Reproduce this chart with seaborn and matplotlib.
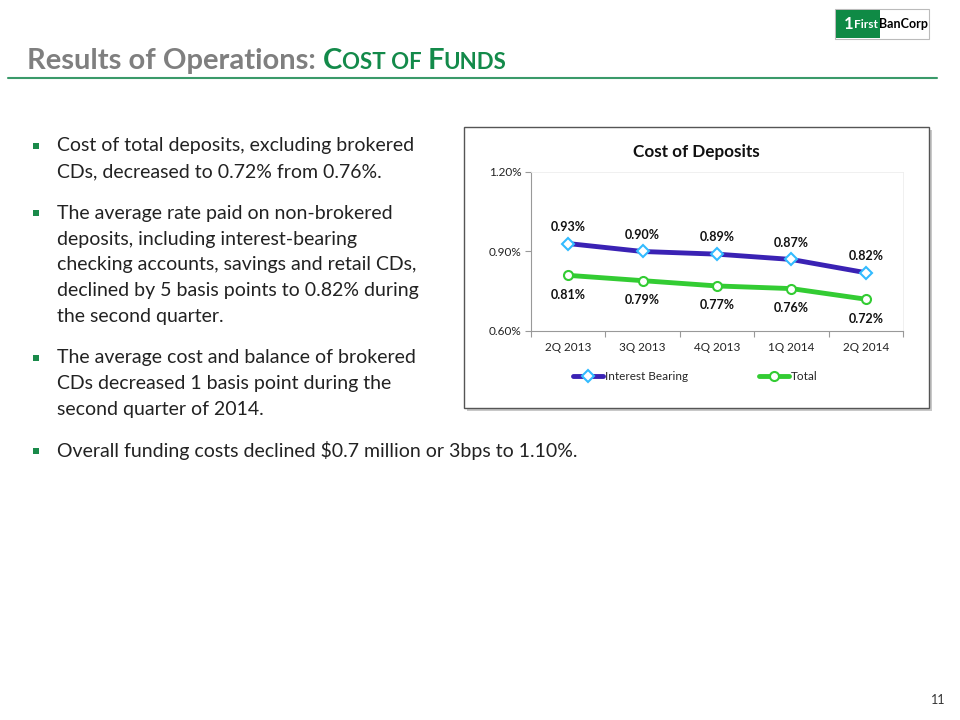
import numpy as np
import pandas as pd
import matplotlib
matplotlib.use("Agg")
import matplotlib.pyplot as plt
from matplotlib.patches import Rectangle
from matplotlib.lines import Line2D
import seaborn as sns

# ===================== DATOS =====================
quarters = ["2Q 2013", "3Q 2013", "4Q 2013", "1Q 2014", "2Q 2014"]
interest_bearing = [0.93, 0.90, 0.89, 0.87, 0.82]
total = [0.81, 0.79, 0.77, 0.76, 0.72]
y_ticks = [0.60, 0.90, 1.20]
series_names = ["Interest Bearing", "Total"]

bullets = [
    ["Cost of total deposits, excluding brokered", "CDs, decreased to 0.72% from 0.76%."],
    ["The average rate paid on non-brokered", "deposits, including interest-bearing",
     "checking accounts, savings and retail CDs,", "declined by 5 basis points to 0.82% during",
     "the second quarter."],
    ["The average cost and balance of brokered", "CDs decreased 1 basis point during the",
     "second quarter of 2014."],
    ["Overall funding costs declined $0.7 million or 3bps to 1.10%."],
]

# ===================== ESTILO =====================
sns.set_theme(style="white")
plt.rcParams['font.family'] = ['Lato', 'DejaVu Sans']

W, H = 960, 720
fig = plt.figure(figsize=(9.6, 7.2), dpi=100)

def fx(px):
    return px / W

def fy(py):
    return 1 - py / H

GREEN = "#138a4a"
GRAY = "#7f7f7f"
BLUE = "#3a22b4"
LGREEN = "#33cc33"

# titulo de la diapositiva
TY = 69
t1 = fig.text(fx(27), fy(TY), "Results of Operations: ", fontsize=21, fontweight="bold",
              color=GRAY, va="baseline", ha="left")
fig.canvas.draw()
x0 = t1.get_window_extent().x1 / W
for part, sz in [("C", 21), ("OST OF ", 16), ("F", 21), ("UNDS", 16)]:
    t = fig.text(x0, fy(TY), part, fontsize=sz, fontweight="bold", color=GREEN, va="baseline")
    fig.canvas.draw()
    x0 = t.get_window_extent().x1 / W

fig.add_artist(Line2D([fx(8), fx(937)], [fy(78), fy(78)], color="#3a9a6a", lw=1.5))

# logo
fig.add_artist(Rectangle((fx(835), fy(39)), fx(94), 30 / H, facecolor="white",
                         edgecolor="#bbbbbb", lw=0.8))
fig.add_artist(Rectangle((fx(836), fy(38)), fx(44), 28 / H, facecolor="#0f8a45", edgecolor="none"))
fig.text(fx(849), fy(24), "1", fontsize=12, fontweight="bold", color="white",
         ha="center", va="center")
fig.text(fx(866), fy(25), "First", fontsize=8.5, fontweight="bold", color="white",
         ha="center", va="center")
fig.text(fx(904), fy(24), "BanCorp", fontsize=9, fontweight="bold", color="black",
         ha="center", va="center")

# viñetas
y = 146
for b in bullets:
    fig.add_artist(Rectangle((fx(33), fy(y + 3)), fx(6), 6 / H, facecolor="#1a8a4a", edgecolor="none"))
    for line in b:
        fig.text(fx(57), fy(y), line, fontsize=14, color="#222222", va="center", ha="left")
        y += 25.7
    y += 16

# número de página
fig.text(fx(945), fy(700), "11", fontsize=9, color="#333333", ha="right", va="center")

# marco del gráfico con sombra
fig.add_artist(Rectangle((fx(467), fy(411)), fx(465), 281 / H, facecolor="#c8c8c8",
                         edgecolor="none", zorder=0))
fig.add_artist(Rectangle((fx(464), fy(408)), fx(465), 281 / H, facecolor="white",
                         edgecolor="#555555", lw=1, zorder=0.5))

# ===================== GRÁFICO =====================
ax = fig.add_axes([fx(531), fy(331), fx(903 - 531), (331 - 172) / H])
ax.set_zorder(2)
ax.patch.set_alpha(0)

sns.lineplot(x=quarters, y=interest_bearing, ax=ax, color=BLUE, lw=3.5, marker="D",
             markersize=6, markerfacecolor="white", markeredgecolor="#33bbff",
             markeredgewidth=1.5, sort=False, label=series_names[0], legend=False)
sns.lineplot(x=quarters, y=total, ax=ax, color=LGREEN, lw=3.5, marker="o",
             markersize=6.5, markerfacecolor="white", markeredgecolor=LGREEN,
             markeredgewidth=1.5, sort=False, label=series_names[1], legend=False)

for i, v in enumerate(interest_bearing):
    ax.annotate(f"{v:.2f}%", (i, v), xytext=(0, 12), textcoords="offset points",
                ha="center", va="center", fontsize=9, fontweight="bold", color="#111111")
for i, v in enumerate(total):
    ax.annotate(f"{v:.2f}%", (i, v), xytext=(0, -14), textcoords="offset points",
                ha="center", va="center", fontsize=9, fontweight="bold", color="#111111")

ax.set_xlim(-0.5, len(quarters) - 0.5)
ax.set_ylim(y_ticks[0], y_ticks[-1])
ax.set_yticks(y_ticks)
ax.set_yticklabels([f"{t:.2f}%" for t in y_ticks])
ax.set_xticks(range(len(quarters)))
ax.set_xticklabels(quarters)
ax.set_xticks(np.arange(-0.5, len(quarters)), minor=True)
ax.tick_params(axis="x", which="major", length=0, pad=8, labelsize=8.5, labelcolor="#222222")
ax.tick_params(axis="x", which="minor", length=4, color="#999999", width=0.8, bottom=True)
ax.tick_params(axis="y", which="major", length=4, color="#999999", width=0.8, left=True,
               labelsize=8.5, labelcolor="#222222", pad=3)
for side in ["top", "right"]:
    ax.spines[side].set_color("#eeeeee")
    ax.spines[side].set_linewidth(0.6)
for side in ["left", "bottom"]:
    ax.spines[side].set_color("#999999")
    ax.spines[side].set_linewidth(0.8)
ax.set_xlabel("")
ax.set_ylabel("")
ax.grid(False)

fig.text(fx(696), fy(152), "Cost of Deposits", fontsize=12.3, fontweight="bold",
         color="#111111", ha="center", va="center")

handles = [
    Line2D([], [], color=BLUE, lw=3.5, marker="D", markersize=6, markerfacecolor="white",
           markeredgecolor="#33bbff", markeredgewidth=1.5),
    Line2D([], [], color=LGREEN, lw=3.5, marker="o", markersize=6.5, markerfacecolor="white",
           markeredgecolor=LGREEN, markeredgewidth=1.5),
]
fig.legend(handles, series_names, loc="center", bbox_to_anchor=(fx(695), fy(377)), ncol=2,
           frameon=False, fontsize=8.5, handlelength=2.6, handletextpad=0.1, columnspacing=6)

fig.savefig("out.png", dpi=100)
